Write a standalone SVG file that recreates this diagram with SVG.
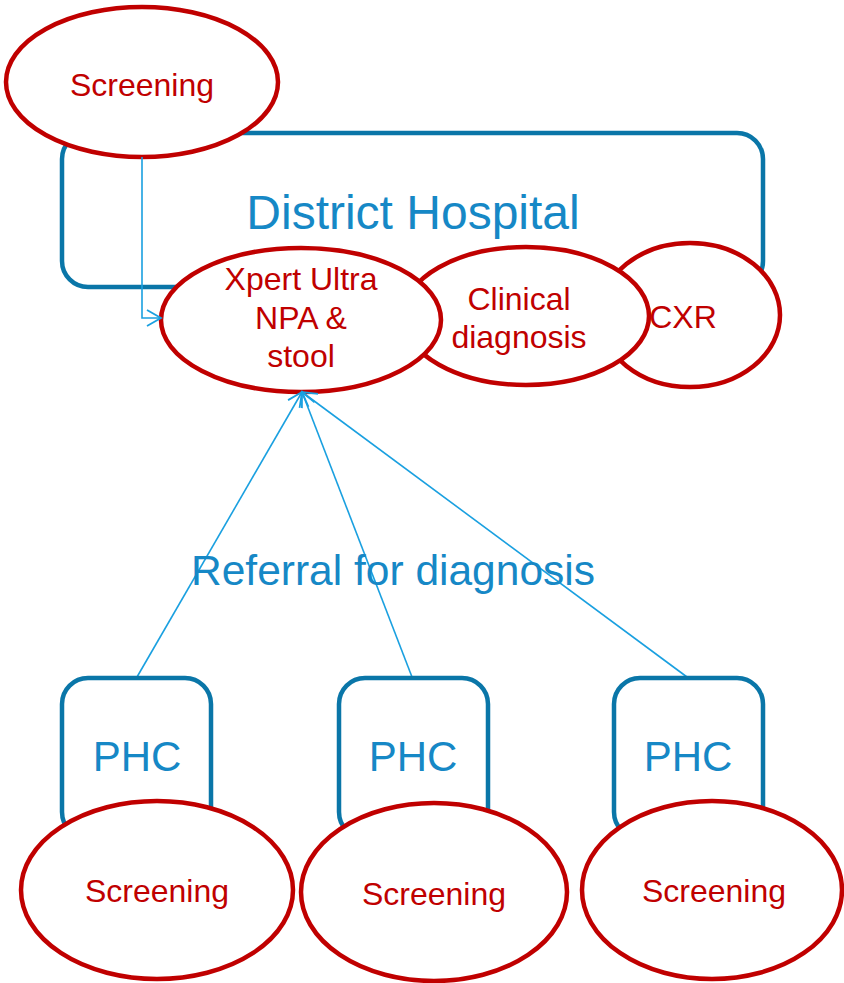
<svg xmlns="http://www.w3.org/2000/svg" width="844" height="983" viewBox="0 0 844 983">
<style>
.box{fill:#fff;stroke:#0a76a8;stroke-width:4.5}
.ell{fill:#fff;stroke:#c00000;stroke-width:4.5}
.rt{fill:#c00000;font-family:"Liberation Sans",Arial,sans-serif;text-anchor:middle;font-size:32px}
.bt{fill:#1688c6;font-family:"Liberation Sans",Arial,sans-serif;text-anchor:middle}
.con{fill:none;stroke:#1aa0e0;stroke-width:1.6}
</style>
<defs>
<marker id="arr" markerWidth="18" markerHeight="18" refX="15" refY="9" orient="auto" markerUnits="userSpaceOnUse">
<path d="M1,1 L15,9 L1,17" fill="none" stroke="#1aa0e0" stroke-width="1.8"/>
</marker>
</defs>
<g id="district-hospital">
<rect class="box" x="62" y="133" width="701" height="154" rx="26"/>
<text class="bt" x="413" y="229" font-size="48">District Hospital</text>
</g>
<g id="screening-top">
<ellipse class="ell" cx="142" cy="82" rx="136" ry="75"/>
<text class="rt" x="142" y="96">Screening</text>
</g>
<g id="cxr">
<ellipse class="ell" cx="690" cy="315" rx="90" ry="72"/>
<text class="rt" x="683" y="328">CXR</text>
</g>
<g id="clinical">
<ellipse class="ell" cx="526" cy="316" rx="123" ry="69"/>
<text class="rt" x="519" y="310">Clinical</text>
<text class="rt" x="519" y="348">diagnosis</text>
</g>
<g id="xpert">
<ellipse class="ell" cx="301" cy="320" rx="140" ry="72"/>
<text class="rt" x="301" y="290">Xpert Ultra</text>
<text class="rt" x="301" y="329">NPA &amp;</text>
<text class="rt" x="301" y="367">stool</text>
</g>
<g id="connectors">
<path class="con" d="M142,157 V318 H161" marker-end="url(#arr)"/>
<line class="con" x1="137" y1="677" x2="302" y2="392" marker-end="url(#arr)"/>
<line class="con" x1="412" y1="677" x2="302" y2="392" marker-end="url(#arr)"/>
<line class="con" x1="687" y1="677" x2="302" y2="392" marker-end="url(#arr)"/>
</g>
<g id="referral-label">
<text class="bt" x="393" y="585" font-size="42.5">Referral for diagnosis</text>
</g>
<g id="phc1">
<rect class="box" x="62" y="678" width="149" height="160" rx="26"/>
<text class="bt" x="137" y="771" font-size="42">PHC</text>
</g>
<g id="phc2">
<rect class="box" x="339" y="678" width="149" height="160" rx="26"/>
<text class="bt" x="413" y="771" font-size="42">PHC</text>
</g>
<g id="phc3">
<rect class="box" x="614" y="678" width="149" height="160" rx="26"/>
<text class="bt" x="688" y="771" font-size="42">PHC</text>
</g>
<g id="screening1">
<ellipse class="ell" cx="157" cy="890" rx="136" ry="89"/>
<text class="rt" x="157" y="902">Screening</text>
</g>
<g id="screening2">
<ellipse class="ell" cx="434" cy="892" rx="133" ry="89"/>
<text class="rt" x="434" y="905">Screening</text>
</g>
<g id="screening3">
<ellipse class="ell" cx="712" cy="890" rx="130" ry="89"/>
<text class="rt" x="714" y="902">Screening</text>
</g>
</svg>
